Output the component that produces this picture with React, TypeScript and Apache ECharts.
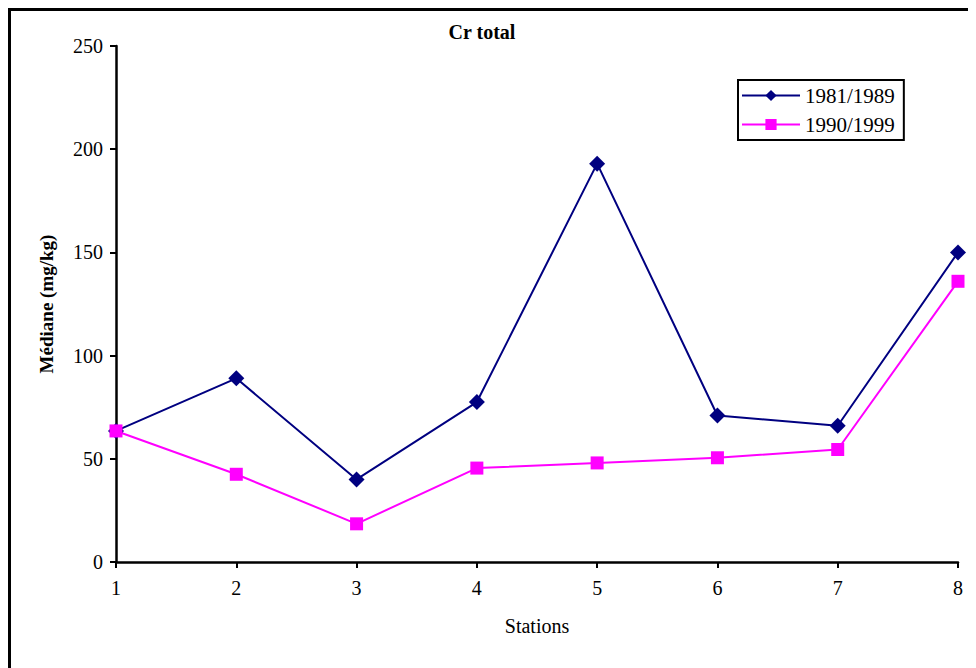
import React, { useEffect, useRef } from "react";
import * as echarts from "echarts";

const stations = [1, 2, 3, 4, 5, 6, 7, 8];
const series1981 = [63.5, 89, 40, 77.5, 193, 71, 66, 150];
const series1990 = [63.5, 42.5, 18.5, 45.5, 48, 50.5, 54.5, 136];
const seriesNames = ["1981/1989", "1990/1999"];

const FONT = "Liberation Serif";

export default function App() {
  const ref = useRef<HTMLDivElement>(null);
  useEffect(() => {
    if (!ref.current) return;
    const chart = echarts.init(ref.current, undefined, { renderer: "svg" });
    chart.setOption({
      animation: false,
      backgroundColor: "#fff",
      title: {
        text: "Cr total",
        left: 469,
        top: 9,
        textAlign: "center",
        textStyle: { fontFamily: FONT, fontSize: 20, fontWeight: "bold", color: "#000" },
      },
      graphic: [
        { type: "line", shape: { x1: 1.5, y1: 0, x2: 1.5, y2: 700 }, style: { stroke: "#000", lineWidth: 3 } },
        { type: "line", shape: { x1: 0, y1: 1.5, x2: 1000, y2: 1.5 }, style: { stroke: "#000", lineWidth: 3 } },
      ],
      legend: {
        left: 730,
        top: 72,
        orient: "vertical",
        borderColor: "#000",
        borderWidth: 2,
        padding: [5, 9, 5, 3],
        itemGap: 8,
        itemWidth: 58,
        itemHeight: 14,
        textStyle: { fontFamily: FONT, fontSize: 21, color: "#000" },
        data: seriesNames,
      },
      grid: { left: 108, right: 18, top: 38, bottom: 106 },
      xAxis: {
        type: "value",
        min: 1,
        max: 8,
        interval: 1,
        name: "Stations",
        nameLocation: "middle",
        nameGap: 54,
        nameTextStyle: { fontFamily: FONT, fontSize: 20, color: "#000" },
        axisLine: { lineStyle: { color: "#000", width: 2.5 } },
        axisTick: { show: true, length: 6, lineStyle: { color: "#000", width: 2 } },
        axisLabel: { fontFamily: FONT, fontSize: 20, color: "#000", margin: 16 },
        splitLine: { show: false },
      },
      yAxis: {
        type: "value",
        min: 0,
        max: 250,
        interval: 50,
        name: "Médiane (mg/kg)",
        nameLocation: "middle",
        nameGap: 60,
        nameTextStyle: { fontFamily: FONT, fontSize: 19, fontWeight: "bold", color: "#000" },
        axisLine: { show: true, lineStyle: { color: "#000", width: 2.5 } },
        axisTick: { show: true, length: 6, lineStyle: { color: "#000", width: 2 } },
        axisLabel: { fontFamily: FONT, fontSize: 20, color: "#000", margin: 13 },
        splitLine: { show: false },
      },
      series: [
        {
          name: seriesNames[0],
          type: "line",
          data: stations.map((s, i) => [s, series1981[i]]),
          symbol: "diamond",
          symbolSize: 16,
          lineStyle: { color: "#000080", width: 2 },
          itemStyle: { color: "#000080" },
        },
        {
          name: seriesNames[1],
          type: "line",
          data: stations.map((s, i) => [s, series1990[i]]),
          symbol: "rect",
          symbolSize: 13,
          lineStyle: { color: "#FF00FF", width: 2 },
          itemStyle: { color: "#FF00FF" },
        },
      ],
    });
    return () => chart.dispose();
  }, []);
  return <div ref={ref} style={{ width: 968, height: 660 }} />;
}
